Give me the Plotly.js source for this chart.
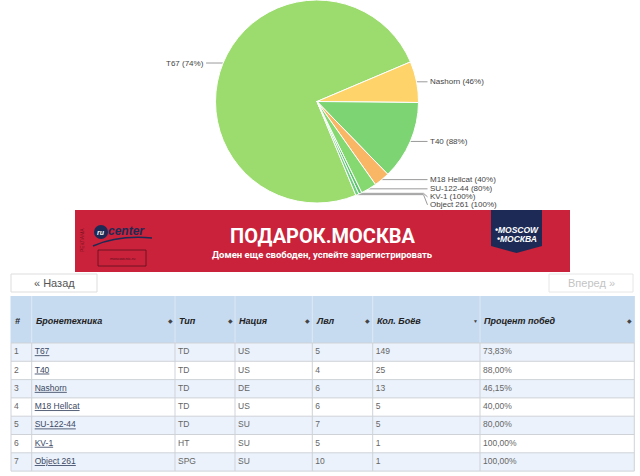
<!DOCTYPE html>
<html><head><meta charset="utf-8">
<script src="https://cdn.plot.ly/plotly-3.0.1.min.js"></script>
<style>html,body{margin:0;padding:0;background:#fff;overflow:hidden}#chart{width:640px;height:476px}</style>
</head><body><div id="chart"></div>
<script>
// ---------------- data ----------------
const vehicles = ['T67', 'T40', 'Nashorn', 'M18 Hellcat', 'SU-122-44', 'KV-1', 'Object 261'];
const types    = ['TD', 'TD', 'TD', 'TD', 'TD', 'HT', 'SPG'];
const nations  = ['US', 'US', 'DE', 'US', 'SU', 'SU', 'SU'];
const levels   = [5, 4, 6, 6, 7, 5, 10];
const battles  = [149, 25, 13, 5, 5, 1, 1];
const winRates = [73.83, 88.00, 46.15, 40.00, 80.00, 100.00, 100.00];
const pieOrder = ['T67', 'Nashorn', 'T40', 'M18 Hellcat', 'SU-122-44', 'KV-1', 'Object 261'];
const headers  = ['#', 'Бронетехника', 'Тип', 'Нация', 'Лвл', 'Кол. Боёв', 'Процент побед'];
const sortIcons = ['', '◆', '◆', '◆', '◆', '▼', '◆'];
const bannerTitle = 'ПОДАРОК.МОСКВА';
const bannerSub = 'Домен еще свободен, успейте зарегистрировать';
const prevLabel = '« Назад';
const nextLabel = 'Вперед »';

// ---------------- layout constants ----------------
const W = 640, H = 476;
const FONT = 'Liberation Sans, Arial, sans-serif';
const PIE = {cx: 317, cy: 101.5, r: 101.5, start: 157.5};
const pieColors = {
  'T67': '#9cdc6e', 'Nashorn': '#fdd36a', 'T40': '#7dd473', 'M18 Hellcat': '#f9b664',
  'SU-122-44': '#86d871', 'KV-1': '#5cc46c', 'Object 261': '#6ccf7c'
};
const TB = {x0: 11, top: 296, headH: 47, rowH: 18.3, pad: 3};
const colW = [20.7, 143.3, 60, 77.3, 60.4, 107.3, 154.3];

const shapes = [], annotations = [];
function ann(x, y, text, o) {
  annotations.push(Object.assign({x: x, y: y, xref: 'x', yref: 'y', text: text, showarrow: false,
    xanchor: 'left', yanchor: 'middle', borderpad: 0, borderwidth: 0,
    font: {family: FONT, size: 8.5, color: '#666'}}, o || {}));
}
function rect(x0, y0, x1, y1, fill, line, lw) {
  shapes.push({type: 'rect', layer: 'below', xref: 'x', yref: 'y', x0: x0, y0: y0, x1: x1, y1: y1,
    fillcolor: fill || 'rgba(0,0,0,0)', line: {color: line || 'rgba(0,0,0,0)', width: lw || 0}});
}
function seg(x0, y0, x1, y1, color, w) {
  shapes.push({type: 'line', layer: 'below', xref: 'x', yref: 'y', x0: x0, y0: y0, x1: x1, y1: y1, line: {color: color, width: w || 1}});
}

// ---------------- pie ----------------
const pieIdx = pieOrder.map(n => vehicles.indexOf(n));
const pieVals = pieIdx.map(i => battles[i]);
const pieTotal = pieVals.reduce((a, b) => a + b, 0);
const pieTrace = {
  type: 'pie', labels: pieOrder, values: pieVals, sort: false, direction: 'clockwise',
  rotation: PIE.start, textinfo: 'none', hoverinfo: 'none', showlegend: false,
  marker: {colors: pieOrder.map(n => pieColors[n]), line: {color: '#ffffff', width: 1}},
  domain: {x: [(PIE.cx - PIE.r) / W, (PIE.cx + PIE.r) / W], y: [1 - (PIE.cy + PIE.r) / H, 1 - (PIE.cy - PIE.r) / H]}
};

// leader lines + labels computed from the slice angles
const lx = [], ly = [];
let acc = PIE.start;
const right = [];
pieVals.forEach((v, k) => {
  const span = v / pieTotal * 360;
  const mid = (acc + span / 2) * Math.PI / 180;
  acc += span;
  const px = PIE.cx + PIE.r * Math.sin(mid), py = PIE.cy - PIE.r * Math.cos(mid);
  const i = pieIdx[k];
  const txt = vehicles[i] + ' (' + Math.round(winRates[i]) + '%)';
  if (Math.sin(mid) < 0) {
    lx.push(px, px - 17, null); ly.push(py, py, null);
    ann(px - 19, py, txt, {xanchor: 'right', font: {family: FONT, size: 8, color: '#444'}});
  } else {
    right.push({px: px, py: py, txt: txt});
  }
});
right.sort((a, b) => a.py - b.py);
let lastY = -1e9;
const labX = PIE.cx + PIE.r + 9;
right.forEach(o => {
  const y = Math.max(o.py, lastY + 8);
  lastY = y;
  lx.push(o.px, PIE.cx + PIE.r + 5, labX, null); ly.push(o.py, o.py, y, null);
  ann(labX + 2, y, o.txt, {font: {family: FONT, size: 8, color: '#444'}});
});
const leaderTrace = {type: 'scatter', mode: 'lines', x: lx, y: ly, xaxis: 'x', yaxis: 'y',
  line: {color: '#9a9a9a', width: 1}, hoverinfo: 'skip', showlegend: false};

// ---------------- banner ----------------
const BN = {x0: 75, x1: 570, y0: 210, y1: 272};
rect(BN.x0, BN.y0, BN.x1, BN.y1, '#c9223a');
shapes.push({type: 'path', layer: 'below', xref: 'x', yref: 'y', path: 'M491,210 L542,210 L542,246 L516.5,253 L491,246 Z',
  fillcolor: '#1c2a55', line: {width: 0}});
shapes.push({type: 'circle', layer: 'below', xref: 'x', yref: 'y', x0: 94, x1: 108, y0: 225, y1: 239, fillcolor: '#1c2a55', line: {width: 0}});
shapes.push({type: 'path', layer: 'below', xref: 'x', yref: 'y', path: 'M93,246 Q118,235 152,238', line: {color: '#1c2a55', width: 1.5}});
rect(98, 250, 146, 266, null, '#5a1020', 0.8);
ann(101, 232, '<b><i>ru</i></b>', {xanchor: 'center', font: {family: FONT, size: 7, color: '#ffffff'}});
ann(108, 231, '<b><i>center</i></b>', {font: {family: FONT, size: 12, color: '#1c2a55'}});
ann(122, 258, 'moscow.nic.ru', {xanchor: 'center', font: {family: FONT, size: 4, color: '#5a1020'}});
ann(82, 240, 'РЕКЛАМА', {xanchor: 'center', textangle: -90, font: {family: FONT, size: 5, color: 'rgba(90,10,20,0.7)'}});
ann(323, 236, '<b>' + bannerTitle + '</b>', {xanchor: 'center', font: {family: 'Roboto, ' + FONT, size: 20, color: '#ffffff'}});
ann(322, 254, '<b>' + bannerSub + '</b>', {xanchor: 'center', font: {family: 'Roboto, ' + FONT, size: 9.5, color: '#ffffff'}});
ann(516.5, 230, '<b><i>•MOSCOW</i></b>', {xanchor: 'center', font: {family: FONT, size: 8.5, color: '#ffffff'}});
ann(516.5, 238.5, '<b><i>•МОСКВА</i></b>', {xanchor: 'center', font: {family: FONT, size: 8.5, color: '#ffffff'}});

// ---------------- pager buttons ----------------
rect(11, 274, 97, 292, '#ffffff', '#dddddd', 1);
ann(54, 283, prevLabel, {xanchor: 'center', font: {family: FONT, size: 11, color: '#555'}});
rect(549, 274, 633, 292, '#ffffff', '#e6e6e6', 1);
ann(591, 283, nextLabel, {xanchor: 'center', font: {family: FONT, size: 11, color: '#c4c4c4'}});

// ---------------- table ----------------
const colX = [TB.x0];
colW.forEach(w => colX.push(colX[colX.length - 1] + w));
const tX1 = colX[colX.length - 1];
const bodyTop = TB.top + TB.headH;
const nRows = vehicles.length;
const tBottom = bodyTop + nRows * TB.rowH;
rect(TB.x0, TB.top, tX1, bodyTop, '#c6daf0');
for (let i = 0; i < nRows; i++) {
  rect(TB.x0, bodyTop + i * TB.rowH, tX1, bodyTop + (i + 1) * TB.rowH, i % 2 === 0 ? '#ebf2fb' : '#ffffff');
}
colX.forEach((x, c) => {
  seg(x, TB.top, x, bodyTop, (c === 0 || c === colX.length - 1) ? '#c6daf0' : '#dfe9f5', 1);
  seg(x, bodyTop, x, tBottom, '#cfd3d8', 1);
});
for (let i = 0; i <= nRows; i++) seg(TB.x0, bodyTop + i * TB.rowH, tX1, bodyTop + i * TB.rowH, '#cfd3d8', 1);

const headY = TB.top + TB.headH / 2 + 1;
headers.forEach((h, c) => {
  ann(colX[c] + TB.pad + 1, headY, '<b><i>' + h + '</i></b>', {font: {family: FONT, size: 9, color: '#222'}});
  if (sortIcons[c]) ann(colX[c + 1] - 5, headY, sortIcons[c], {xanchor: 'center', font: {family: FONT, size: c === 5 ? 5 : 6, color: '#444'}});
});

const cellCols = [
  vehicles.map((v, i) => String(i + 1)),
  vehicles.map(v => '<u>' + v + '</u>'),
  types,
  nations,
  levels.map(String),
  battles.map(String),
  winRates.map(v => v.toFixed(2).replace('.', ',') + '%')
];
const rowY = vehicles.map((v, i) => bodyTop + (i + 0.5) * TB.rowH);
const cellTraces = cellCols.map((col, c) => ({
  type: 'scatter', mode: 'text', xaxis: 'x', yaxis: 'y',
  x: col.map(() => colX[c] + TB.pad), y: rowY, text: col,
  textposition: 'middle right', hoverinfo: 'skip', showlegend: false, cliponaxis: false,
  textfont: {family: FONT, size: 8.5, color: c === 1 ? '#3b4863' : '#666'}
}));

const layout = {
  width: W, height: H, margin: {l: 0, r: 0, t: 0, b: 0, pad: 0},
  paper_bgcolor: '#ffffff', plot_bgcolor: 'rgba(0,0,0,0)', showlegend: false,
  xaxis: {range: [0, W], visible: false, fixedrange: true, domain: [0, 1]},
  yaxis: {range: [H, 0], visible: false, fixedrange: true, domain: [0, 1]},
  shapes: shapes, annotations: annotations
};
Plotly.newPlot('chart', [leaderTrace, pieTrace].concat(cellTraces), layout, {staticPlot: true, displayModeBar: false});
</script></body></html>
